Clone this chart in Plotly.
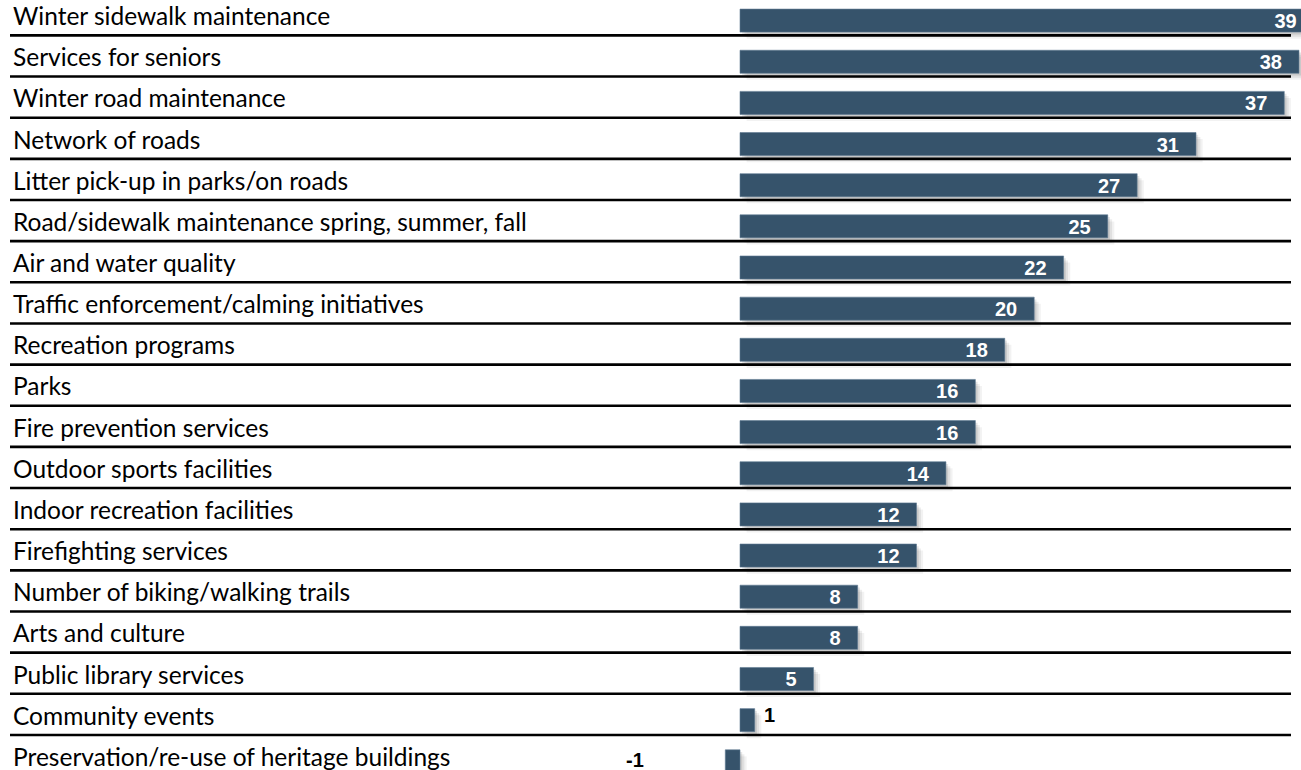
import plotly.graph_objects as go

categories = [
    "Winter sidewalk maintenance",
    "Services for seniors",
    "Winter road maintenance",
    "Network of roads",
    "Litter pick-up in parks/on roads",
    "Road/sidewalk maintenance spring, summer, fall",
    "Air and water quality",
    "Traffic enforcement/calming initiatives",
    "Recreation programs",
    "Parks",
    "Fire prevention services",
    "Outdoor sports facilities",
    "Indoor recreation facilities",
    "Firefighting services",
    "Number of biking/walking trails",
    "Arts and culture",
    "Public library services",
    "Community events",
    "Preservation/re-use of heritage buildings",
]
values = [39, 38, 37, 31, 27, 25, 22, 20, 18, 16, 16, 14, 12, 12, 8, 8, 5, 1, -1]

rows = list(range(len(categories)))

W, H = 1301, 770
BAR_COLOR = "#36536B"
BAR_W = 0.56
INSIDE_MIN = 5  # values at or above this are labelled inside the bar

fig = go.Figure()

# soft drop shadow (several offset translucent layers)
for dx, dy, a in [(0.45, 0.16, 0.05), (0.30, 0.11, 0.07), (0.15, 0.055, 0.10)]:
    fig.add_trace(go.Bar(
        orientation="h", y=rows, x=values, base=dx,
        width=BAR_W, offset=-BAR_W / 2 + dy,
        marker=dict(color=f"rgba(0,0,0,{a})", line_width=0),
        hoverinfo="skip", showlegend=False,
    ))

fig.add_trace(go.Bar(
    orientation="h", y=rows, x=values,
    width=BAR_W, offset=-BAR_W / 2,
    marker=dict(color=BAR_COLOR, line=dict(color="#5f7a92", width=0.6)),
    hovertext=categories, hoverinfo="text+x", showlegend=False,
))

# inside value labels (invisible markers give the padding from the bar end)
ins = [i for i in rows if values[i] >= INSIDE_MIN]
fig.add_trace(go.Scatter(
    x=[values[i] for i in ins], y=[i + 0.06 for i in ins],
    mode="markers+text",
    text=[str(values[i]) for i in ins],
    textposition="middle left",
    marker=dict(size=25.6, color="rgba(0,0,0,0)"),
    textfont=dict(family="Liberation Sans, Arial, sans-serif", size=20, color="white", weight="bold"),
    hoverinfo="skip", showlegend=False,
))

annotations = []
for i in rows:
    annotations.append(dict(
        x=11 / W, xref="paper", xanchor="left",
        y=i, yref="y", yanchor="middle", yshift=5,
        text=categories[i], showarrow=False,
        font=dict(family="Lato, sans-serif", size=24.5, color="#000000"),
    ))
    v = values[i]
    if v < INSIDE_MIN:
        pos = v >= 0
        annotations.append(dict(
            x=v, xref="x", xanchor="left" if pos else "right",
            xshift=7 if pos else -79,
            y=i, yref="y", yanchor="middle", yshift=5 if pos else 1,
            text=str(v), showarrow=False,
            font=dict(family="Liberation Sans, Arial, sans-serif", size=20, color="#000000", weight="bold"),
        ))

shapes = []
for i in rows:
    shapes.append(dict(
        type="line", xref="paper", yref="y",
        x0=10 / W, x1=1291 / W, y0=i + 0.36, y1=i + 0.36,
        line=dict(color="#000000", width=2.6), layer="below",
    ))

px_per_unit = 14.71
zero_px = 740
x_min = -zero_px / px_per_unit
x_max = (W - zero_px) / px_per_unit

row_px = 41.15
top_center_px = 20.6
y_top = -top_center_px / row_px
y_bottom = (H - top_center_px) / row_px

fig.update_layout(
    width=W, height=H,
    margin=dict(l=0, r=0, t=0, b=0),
    paper_bgcolor="white", plot_bgcolor="white",
    barmode="overlay",
    showlegend=False,
    xaxis=dict(range=[x_min, x_max], visible=False, fixedrange=True),
    yaxis=dict(range=[y_bottom, y_top], visible=False, fixedrange=True),
    annotations=annotations,
    shapes=shapes,
)

fig.write_html(
    "out.html",
    config={"displayModeBar": False},
    post_script=(
        "document.documentElement.style.margin='0';"
        "document.documentElement.style.overflow='hidden';"
        "document.body.style.margin='0';"
        "document.body.style.overflow='hidden';"
    ),
)
